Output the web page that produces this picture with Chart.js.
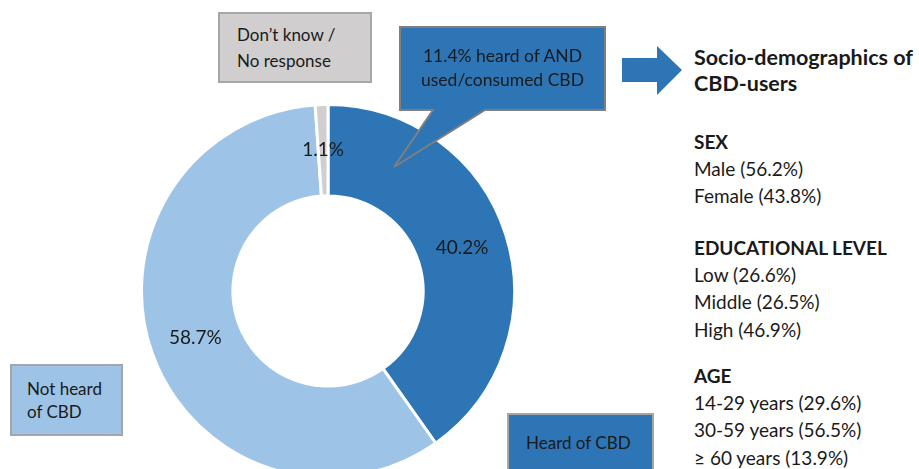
<!DOCTYPE html>
<html>
<head>
<meta charset="utf-8">
<script src="https://cdn.jsdelivr.net/npm/chart.js@4"></script>
<style>
  html, body { margin: 0; padding: 0; width: 919px; height: 469px; overflow: hidden; background: #fff; }
  body { position: relative; font-family: Lato, "Open Sans", sans-serif; color: #1a1a1a; }
  .box { position: absolute; box-sizing: border-box; border: 2px solid #a6a6a6; font-size: 17px; }
  #ringWrap { position: absolute; left: 140px; top: 103px; width: 376px; height: 376px; }
  #side { position: absolute; left: 694px; top: 0; font-size: 19px; }
  #side div { position: absolute; white-space: nowrap; line-height: 24px; }
  #side .hd { font-weight: bold; }
  svg { position: absolute; left: 0; top: 0; z-index: 2; }
  #calloutText { position: absolute; left: 400px; top: 44px; width: 205px; text-align: center; font-size: 17.5px; line-height: 24px; z-index: 3; }
</style>
</head>
<body>
<div id="ringWrap"><canvas id="ring"></canvas></div>

<svg width="919" height="469">
  <!-- callout with pointer -->
  <path d="M400 27 H605 V110 H485 L394 167 L433 110 H400 Z" fill="#2e75b6" stroke="#7f7f7f" stroke-width="2"/>
  <!-- arrow -->
  <path d="M622 58 H657 V46 L682 70 L657 95 V82 H622 Z" fill="#2e75b6"/>
</svg>

<div class="box" style="left:218px;top:12px;width:154px;height:71px;background:#d0cece;padding:8px 0 0 17px;line-height:26px;">Don’t know /<br>No response</div>
<div id="calloutText">11.4% heard of AND<br>used/consumed CBD</div>
<div class="box" style="left:10px;top:364px;width:113px;height:72px;background:#9dc3e6;padding:11px 0 0 15px;line-height:23px;">Not heard<br>of CBD</div>
<div class="box" style="left:507px;top:413px;width:147px;height:70px;background:#2e75b6;padding:17px 0 0 17px;">Heard of CBD</div>

<div id="side"></div>

<script>
// Awareness of CBD (share of respondents, %)
const categories = ['Heard of CBD', 'Not heard of CBD', 'Don’t know / No response'];
const shares = [40.2, 58.7, 1.1];
const sliceColors = ['#2e75b6', '#9dc3e6', '#d0cece'];

// Socio-demographics of CBD-users
const sexLabels = ['Male', 'Female'];
const sexShares = [56.2, 43.8];
const eduLabels = ['Low', 'Middle', 'High'];
const eduShares = [26.6, 26.5, 46.9];
const ageLabels = ['14-29 years', '30-59 years', '≥ 60 years'];
const ageShares = [29.6, 56.5, 13.9];

// writes the percentage inside each slice
const sliceLabels = {
    id: 'sliceLabels',
    afterDatasetsDraw(chart) {
        const ctx = chart.ctx;
        const meta = chart.getDatasetMeta(0);
        ctx.save();
        ctx.font = '19px Lato, "Open Sans", sans-serif';
        ctx.fillStyle = '#1a1a1a';
        ctx.textAlign = 'center';
        ctx.textBaseline = 'middle';
        meta.data.forEach((arc, i) => {
            const p = arc.tooltipPosition();
            ctx.fillText(shares[i].toFixed(1) + '%', p.x, p.y);
        });
        ctx.restore();
    }
};

const ringCtx = document.getElementById('ring').getContext('2d');
const ringChart = new Chart(ringCtx, {
    type: 'doughnut',
    data: {
        labels: categories,
        datasets: [{
            data: shares,
            backgroundColor: sliceColors,
            borderColor: '#ffffff',
            borderWidth: 3
        }]
    },
    options: {
        responsive: true,
        maintainAspectRatio: false,
        animation: false,
        cutout: '51%',
        rotation: 0,
        layout: { padding: 0 },
        plugins: {
            legend: { display: false },
            tooltip: { enabled: false }
        }
    },
    plugins: [sliceLabels]
});

// right-hand text panel
const side = document.getElementById('side');
const lines = [];
lines.push(['Socio-demographics of', 45, 'title']);
lines.push(['CBD-users', 71, 'title']);
function addGroup(title, top, labels, values) {
    lines.push([title, top, 'hd']);
    labels.forEach((l, i) => lines.push([l + ' (' + values[i].toFixed(1) + '%)', top + 26.5 + i * 27.5, '']));
}
addGroup('SEX', 130, sexLabels, sexShares);
addGroup('EDUCATIONAL LEVEL', 236, eduLabels, eduShares);
addGroup('AGE', 364, ageLabels, ageShares);
lines.forEach(([text, top, cls]) => {
    const d = document.createElement('div');
    d.textContent = text;
    d.style.top = top + 'px';
    if (cls === 'title') { d.style.fontWeight = 'bold'; d.style.fontSize = '21.5px'; }
    if (cls === 'hd') d.className = 'hd';
    side.appendChild(d);
});
</script>
</body>
</html>
